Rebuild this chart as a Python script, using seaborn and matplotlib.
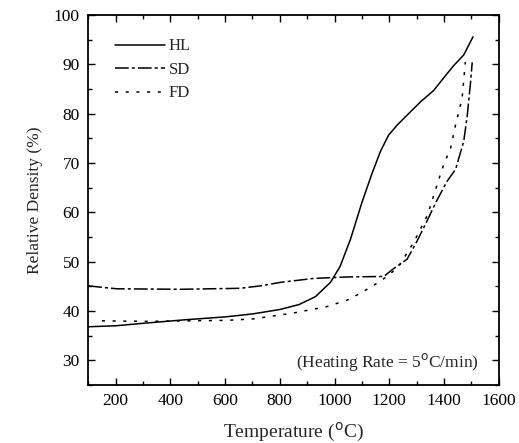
import numpy as np
import pandas as pd
import matplotlib
matplotlib.use("Agg")
import matplotlib.pyplot as plt
import seaborn as sns
from matplotlib.ticker import MultipleLocator

# %% — data
hl_temp = [100, 200, 300, 450, 600, 700, 800, 870, 930, 985, 1020, 1058, 1100,
           1137, 1168, 1198, 1229, 1265, 1314, 1362, 1411, 1436, 1472, 1506]
hl_dens = [36.8, 37.0, 37.5, 38.2, 38.8, 39.4, 40.3, 41.3, 42.9, 45.8, 49.0, 54.5, 62.0,
           67.9, 72.4, 75.7, 77.7, 79.7, 82.4, 84.7, 88.1, 89.8, 91.9, 95.6]

sd_temp = [100, 150, 205, 436, 656, 730, 802, 923, 1046, 1180, 1216, 1265,
           1300, 1340, 1370, 1411, 1442, 1472, 1485, 1497, 1503]
sd_dens = [45.1, 44.8, 44.5, 44.4, 44.6, 45.1, 45.8, 46.6, 46.9, 47.0, 48.6, 50.5,
           54.0, 58.5, 62.0, 66.3, 68.7, 74.4, 79.7, 86.4, 90.4]

fd_temp = [150, 315, 607, 704, 851, 973, 1046, 1094, 1143, 1200, 1240, 1290,
           1340, 1381, 1399, 1424, 1442, 1466, 1478]
fd_dens = [38.0, 37.9, 38.1, 38.4, 39.6, 40.9, 42.2, 43.6, 45.2, 47.3, 49.5, 54.0,
           59.5, 66.7, 69.7, 73.0, 77.7, 83.1, 90.5]

series = [("HL", hl_temp, hl_dens, "-"),
          ("SD", sd_temp, sd_dens, (0, (9, 2, 2, 2))),
          ("FD", fd_temp, fd_dens, (0, (2, 5)))]

# %% — plot
sns.set_style("ticks")
plt.rcParams["font.family"] = ["Liberation Serif", "DejaVu Serif"]

fig = plt.figure(figsize=(5.19, 4.43), dpi=100)
ax = fig.add_axes([0.170, 0.131, 0.791, 0.835])

for name, t, d, ls in series:
    df = pd.DataFrame({"Temperature": t, "Density": d})
    sns.lineplot(data=df, x="Temperature", y="Density", ax=ax, color="black",
                 linewidth=1.1, linestyle=ls, label=name)

ax.set_xlim(100, 1600)
ax.set_ylim(25, 100)
ax.xaxis.set_major_locator(MultipleLocator(200))
ax.xaxis.set_minor_locator(MultipleLocator(100))
ax.yaxis.set_major_locator(MultipleLocator(10))
ax.yaxis.set_minor_locator(MultipleLocator(5))
ax.tick_params(which="both", direction="in", top=True, right=True,
               labelsize=12.5, width=1.0, colors="black", pad=6)
ax.tick_params(which="major", length=5)
ax.tick_params(which="minor", length=3)
for s in ax.spines.values():
    s.set_linewidth(1.3)
    s.set_color("black")

ax.set_xlabel("Temperature ($^{\\rm o}$C)", fontsize=14, labelpad=8)
ax.set_ylabel("Relative Density (%)", fontsize=12.5, labelpad=8)

ax.text(0.95, 0.062, "(Heating Rate = 5$^{\\rm o}$C/min)", transform=ax.transAxes,
        ha="right", va="center", fontsize=12.5)

leg = ax.legend(loc="upper left", bbox_to_anchor=(0.05, 0.955), frameon=False,
                fontsize=12, handlelength=3.0, handletextpad=0.2,
                labelspacing=0.45, borderaxespad=0)

fig.savefig("out.png", dpi=100)
